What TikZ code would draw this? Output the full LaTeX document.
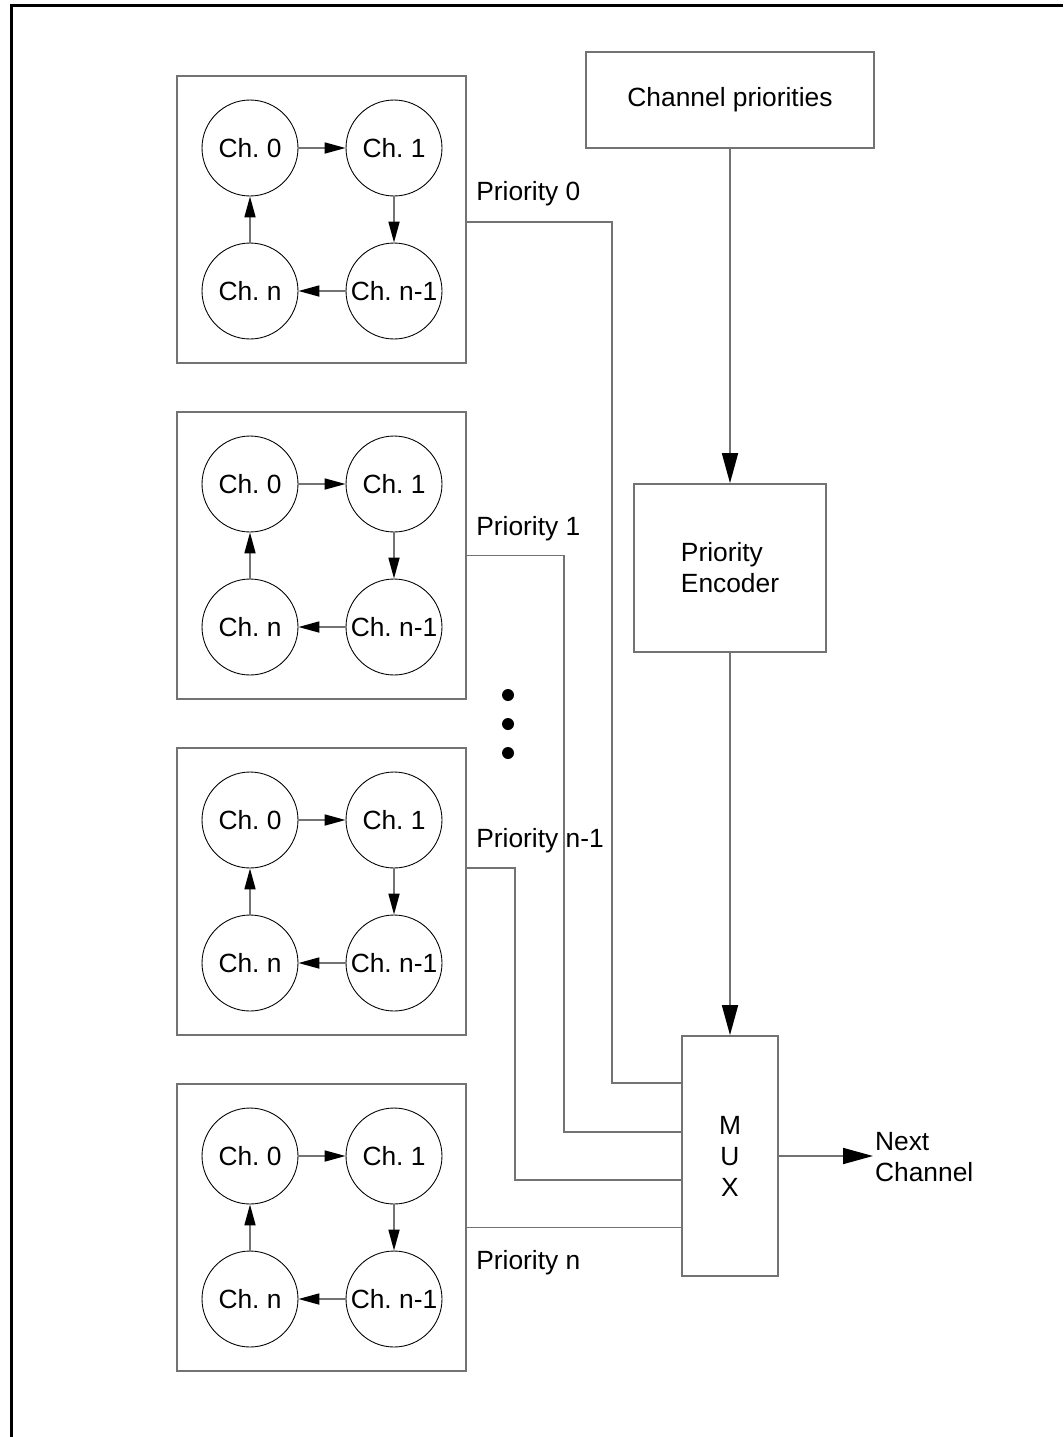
\documentclass[tikz,border=0pt]{standalone}
\usepackage{fontspec}
\setmainfont{Liberation Sans}
\usetikzlibrary{arrows.meta}
\definecolor{linegray}{gray}{0.45}
\frenchspacing
\begin{document}
\begin{tikzpicture}[x=0.02cm, y=-0.02cm]
\tikzset{every node/.style={font=\fontsize{15}{17.6}\selectfont},
  chnoeud/.style={draw=black, line width=0.5pt, circle, minimum size=1.92cm, inner sep=0pt},
  blocnoeud/.style={draw=linegray, line width=1pt, minimum width=5.78cm, minimum height=5.74cm},
  boite/.style={draw=linegray, line width=1pt, inner sep=0pt},
  fil/.style={draw=linegray, line width=1pt},
  fleche/.style={fil, -{Triangle[length=0.42cm, width=0.22cm, color=black]}},
  grossefleche/.style={fil, -{Triangle[length=0.6cm, width=0.32cm, color=black]}}}
\useasboundingbox (0,0) rectangle (1063,1437);
\draw[line width=1.5pt] (1063,5.5) -- (11.5,5.5) -- (11.5,1437);
% priority groups
\node[blocnoeud] (Ba) at (321.5,219.5) {};
\node[blocnoeud] (Bb) at (321.5,555.5) {};
\node[blocnoeud] (Bc) at (321.5,891.5) {};
\node[blocnoeud] (Bd) at (321.5,1227.5) {};
\node[chnoeud] (A0) at (250,148) {Ch. 0};
\node[chnoeud] (A1) at (394,148) {Ch. 1};
\node[chnoeud] (A2) at (394,291) {Ch. n-1};
\node[chnoeud] (A3) at (250,291) {Ch. n};
\node[chnoeud] (B0) at (250,484) {Ch. 0};
\node[chnoeud] (B1) at (394,484) {Ch. 1};
\node[chnoeud] (B2) at (394,627) {Ch. n-1};
\node[chnoeud] (B3) at (250,627) {Ch. n};
\node[chnoeud] (C0) at (250,820) {Ch. 0};
\node[chnoeud] (C1) at (394,820) {Ch. 1};
\node[chnoeud] (C2) at (394,963) {Ch. n-1};
\node[chnoeud] (C3) at (250,963) {Ch. n};
\node[chnoeud] (D0) at (250,1156) {Ch. 0};
\node[chnoeud] (D1) at (394,1156) {Ch. 1};
\node[chnoeud] (D2) at (394,1299) {Ch. n-1};
\node[chnoeud] (D3) at (250,1299) {Ch. n};
\draw[fleche] (A0) -- (A1);
\draw[fleche] (A1) -- (A2);
\draw[fleche] (A2) -- (A3);
\draw[fleche] (A3) -- (A0);
\draw[fleche] (B0) -- (B1);
\draw[fleche] (B1) -- (B2);
\draw[fleche] (B2) -- (B3);
\draw[fleche] (B3) -- (B0);
\draw[fleche] (C0) -- (C1);
\draw[fleche] (C1) -- (C2);
\draw[fleche] (C2) -- (C3);
\draw[fleche] (C3) -- (C0);
\draw[fleche] (D0) -- (D1);
\draw[fleche] (D1) -- (D2);
\draw[fleche] (D2) -- (D3);
\draw[fleche] (D3) -- (D0);
\fill (508,695) circle (0.12cm);
\fill (508,724) circle (0.12cm);
\fill (508,753) circle (0.12cm);
% selection
\node[boite, minimum width=5.76cm, minimum height=1.92cm] (CP) at (730,100) {Channel priorities};
\node[boite, minimum width=3.84cm, minimum height=3.36cm, align=left] (PE) at (730,568) {Priority\\Encoder};
\node[boite, minimum width=1.92cm, minimum height=4.8cm, align=center] (MUX) at (730,1156) {M\\U\\X};
\node[anchor=west, align=left, inner sep=1pt] (NC) at (873,1157) {Next\\Channel};
\draw[grossefleche] (CP) -- (PE);
\draw[grossefleche] (PE) -- (MUX);
\draw[grossefleche] (MUX.east) -- (MUX.east -| NC.west);
\draw[fil] ([yshift=-0.05cm]Ba.east) -- ++(145,0) |- ([yshift=1.46cm]MUX.west);
\draw[fil] (Bb.east) -- ++(97,0) |- ([yshift=0.48cm]MUX.west);
\draw[fil] ([yshift=0.47cm]Bc.east) -- ++(48,0) |- ([yshift=-0.48cm]MUX.west);
\draw[fil] (Bd.east) -- (Bd.east -| MUX.west);
\node[anchor=base west, inner sep=0pt] (L0) at (476,200) {Priority 0};
\node[anchor=base west, inner sep=0pt] (L1) at (476,535) {Priority 1};
\node[anchor=base west, inner sep=0pt] (L2) at (476,847) {Priority n-1};
\node[anchor=base west, inner sep=0pt] (L3) at (476,1269) {Priority n};
\end{tikzpicture}
\end{document}
